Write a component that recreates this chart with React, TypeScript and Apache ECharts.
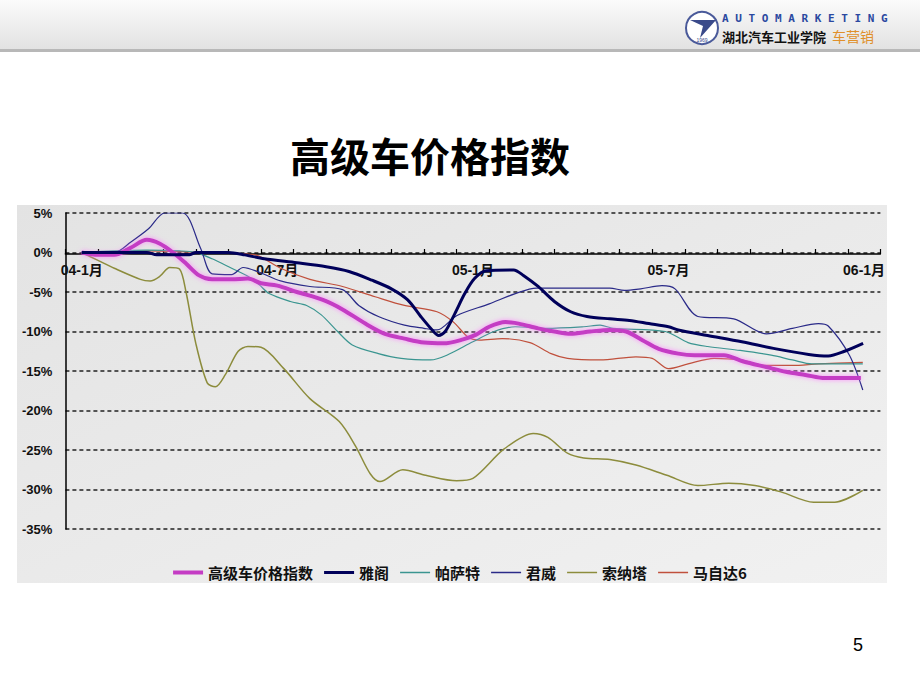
import React, { useEffect, useRef } from "react";
import * as echarts from "echarts";

const monthLabels = [
  "04-1月", "04-2月", "04-3月", "04-4月", "04-5月", "04-6月", "04-7月", "04-8月", "04-9月", "04-10月", "04-11月", "04-12月",
  "05-1月", "05-2月", "05-3月", "05-4月", "05-5月", "05-6月", "05-7月", "05-8月", "05-9月", "05-10月", "05-11月", "05-12月",
  "06-1月",
];

const seriesNames = ["高级车价格指数", "雅阁", "帕萨特", "君威", "索纳塔", "马自达6"];

// [month index (0 = 04-1月), value %]
const indexData = [
  [0, 0], [0.5, -0.3], [1, -0.3], [1.5, 0.6], [2, 1.6], [2.4, 1.1], [2.8, 0], [3.2, -1.4], [3.6, -2.9], [4, -3.4],
  [4.6, -3.4], [5.1, -3.3], [5.5, -3.9], [6, -4.2], [6.6, -5], [7.4, -6], [8, -7.2], [8.7, -9], [9.3, -10.3], [9.9, -10.9],
  [10.5, -11.4], [11.1, -11.5], [11.7, -11], [12.1, -10.4], [12.5, -9.4], [13, -8.8], [13.4, -9], [14, -9.6], [14.5, -10],
  [15, -10.3], [15.6, -10], [16.2, -9.8], [16.7, -10], [17.2, -11.1], [17.7, -12.2], [18.3, -12.8], [18.8, -13], [19.7, -13],
  [20.3, -13.8], [21, -14.5], [21.6, -15.1], [22.2, -15.5], [22.8, -15.9], [23.9, -15.9],
];
const accordData = [
  [0, 0], [1, 0], [2, 0], [2.3, -0.3], [3.3, -0.3], [3.5, 0], [4.5, 0], [5, -0.3], [5.6, -0.8], [6.6, -1.3], [7.5, -1.8],
  [8.2, -2.4], [8.9, -3.5], [9.5, -4.6], [10, -6], [10.4, -8.1], [10.75, -9.8], [10.95, -10.5], [11.15, -10], [11.45, -7.7],
  [11.75, -5.2], [12.05, -3.3], [12.4, -2.3], [13.25, -2.2], [13.55, -2.9], [14, -4.3], [14.5, -6.2], [15, -7.5], [15.5, -8.1],
  [16.2, -8.4], [16.8, -8.6], [17.4, -9], [18, -9.4], [18.3, -9.8], [19.2, -10.5], [20.25, -11.3], [21.3, -12.2], [22.3, -12.9],
  [22.9, -13.1], [23.4, -12.5], [23.97, -11.5],
];
const passatData = [
  [0, 0], [1, 0.2], [2, 0.3], [3, 0.2], [3.5, 0], [4, -0.8], [4.6, -2], [5.1, -3], [5.45, -4.1], [5.75, -5.2], [6.4, -6.2],
  [6.9, -6.7], [7.35, -7.9], [7.85, -10], [8.3, -11.7], [9.1, -12.8], [9.8, -13.4], [10.7, -13.6], [11.2, -13], [12, -11.3],
  [12.65, -10], [13.3, -9.4], [14.25, -9.6], [15.4, -9.4], [15.9, -9.2], [16.3, -9.6], [17.9, -10], [18.6, -11.4], [19.2, -11.9],
  [20.2, -12.4], [21.15, -13], [21.8, -13.6], [22.4, -14.1], [23.96, -14.1],
];
const regalData = [
  [0, 0], [1, 0], [1.5, 1.3], [2.05, 3], [2.55, 5], [3.1, 5], [3.65, 0.5], [4, -2.7], [4.6, -2.8], [4.95, -1.9], [5.45, -2.5],
  [6.1, -3.6], [7, -4.3], [8, -4.7], [8.5, -6.7], [9.1, -8.1], [9.9, -9.2], [10.5, -9.6], [10.9, -9.8], [11.5, -8], [12.5, -6.5],
  [13.3, -5.2], [13.95, -4.5], [16.2, -4.5], [16.65, -4.8], [17.15, -4.6], [17.8, -4.2], [18.2, -4.6], [18.9, -8.1], [20, -8.4],
  [21, -10.3], [21.8, -9.6], [22.6, -9], [22.9, -9.3], [23.55, -13], [23.96, -17.4],
];
const sonataData = [
  [0, 0], [0.5, -1], [1, -2], [1.8, -3.4], [2.1, -3.6], [2.4, -3], [2.7, -1.9], [3, -2.1], [3.2, -5], [3.5, -11.5], [3.85, -16.5],
  [4.1, -17], [4.4, -15.5], [4.8, -12.5], [5.1, -11.9], [5.5, -12], [6.2, -14.7], [7, -18.5], [7.9, -21.4], [8.4, -24.5],
  [8.85, -28], [9.15, -29], [9.85, -27.5], [10.55, -28.2], [11.5, -28.9], [12, -28.6], [12.95, -24.9], [13.85, -22.9],
  [14.3, -23.4], [14.9, -25.4], [15.4, -26], [16.2, -26.2], [17, -26.9], [17.95, -28.2], [18.9, -29.5], [19.85, -29.2],
  [20.65, -29.5], [21.45, -30.3], [22.45, -31.6], [23.1, -31.6], [23.96, -30.1],
];
const mazdaData = [
  [0, 0], [1, 0.1], [2, 0.2], [3, 0.1], [4, 0], [4.8, -0.1], [5.4, -0.4], [6.1, -2], [7, -3.4], [8, -4.3], [9, -5.6], [9.9, -6.7],
  [10.9, -7.5], [11.4, -8.8], [11.85, -10.7], [12.2, -11.1], [12.9, -10.9], [13.75, -11.4], [14.4, -12.8], [14.9, -13.4],
  [15.9, -13.6], [17, -13.2], [17.5, -13.4], [18, -14.7], [18.6, -14.1], [19.4, -13.4], [20.2, -13.6], [21, -14.3], [21.8, -14.3],
  [22.6, -14.1], [23.96, -13.9],
];

const CJK = "'Noto Sans CJK SC', sans-serif";
const LAT = "'Liberation Sans', 'Noto Sans CJK SC', sans-serif";

const thickIcon = "path://M0,0H30V4H0Z";
const midIcon = "path://M0,0H30V3H0Z";
const thinIcon = "path://M0,0H30V1.5H0Z";

function buildOption() {
  const mk = (name: string, data: number[][], color: string, width: number, extra: any = {}) => ({
    name,
    type: "line",
    xAxisIndex: 0,
    yAxisIndex: 0,
    data,
    symbol: "none",
    smooth: 0.3,
    lineStyle: { color, width, ...extra },
    itemStyle: { color },
  });
  return {
    animation: false,
    backgroundColor: "#ffffff",
    grid: [
      { left: 65.4, right: 39.6, top: 213, bottom: 161 },
      { left: 65.4, right: 39.6, top: 213, bottom: 436 },
    ],
    xAxis: [
      { type: "value", gridIndex: 0, min: -0.5, max: 24.5, show: false },
      {
        type: "category",
        gridIndex: 1,
        data: monthLabels,
        position: "bottom",
        boundaryGap: true,
        axisLine: { onZero: false, lineStyle: { color: "#000", width: 1.5 } },
        axisTick: { show: true, interval: 0, inside: true, length: 5, lineStyle: { color: "#000", width: 1.2 } },
        axisLabel: { interval: 5, fontWeight: "bold", fontSize: 14, color: "#111", margin: 9, fontFamily: LAT },
        splitLine: { show: false },
      },
    ],
    yAxis: [
      {
        type: "value",
        gridIndex: 0,
        min: -35,
        max: 5,
        interval: 5,
        axisLine: { show: true, onZero: false, lineStyle: { color: "#000", width: 1.5 } },
        axisTick: { show: false },
        axisLabel: { formatter: "{value}%", fontWeight: "bold", fontSize: 13, color: "#111", margin: 13, fontFamily: LAT },
        splitLine: { show: true, lineStyle: { color: "#222", width: 1.5, type: [4, 3] } },
      },
      { type: "value", gridIndex: 1, min: 0, max: 1, show: false },
    ],
    legend: {
      data: [
        { name: seriesNames[0], icon: thickIcon },
        { name: seriesNames[1], icon: midIcon },
        { name: seriesNames[2], icon: thinIcon },
        { name: seriesNames[3], icon: thinIcon },
        { name: seriesNames[4], icon: thinIcon },
        { name: seriesNames[5], icon: thinIcon },
      ],
      left: "center",
      top: 560,
      itemWidth: 30,
      itemHeight: 14,
      itemGap: 11,
      textStyle: { fontFamily: CJK, fontWeight: "bold", fontSize: 15, color: "#111" },
    },
    series: [
      mk(seriesNames[4], sonataData, "#8c8c3c", 1.5),
      mk(seriesNames[5], mazdaData, "#c0503c", 1.2),
      mk(seriesNames[2], passatData, "#3a9590", 1.2),
      mk(seriesNames[3], regalData, "#2a2a88", 1.2),
      mk(seriesNames[0], indexData, "#c43cc4", 4, { shadowColor: "rgba(255,120,255,0.8)", shadowBlur: 5 }),
      mk(seriesNames[1], accordData, "#00005a", 3),
    ],
    graphic: [
      {
        type: "rect",
        z: -10,
        shape: { x: 0, y: 0, width: 920, height: 50 },
        style: {
          fill: new echarts.graphic.LinearGradient(0, 0, 0, 1, [
            { offset: 0, color: "#fbfbfb" },
            { offset: 1, color: "#e2e2e2" },
          ]),
        },
      },
      { type: "rect", z: -9, shape: { x: 0, y: 49, width: 920, height: 3 }, style: { fill: "#b8b8b8" } },
      {
        type: "rect",
        z: -10,
        shape: { x: 17, y: 205, width: 870, height: 378 },
        style: {
          fill: new echarts.graphic.LinearGradient(0, 0, 1, 1, [
            { offset: 0, color: "#e3e3e3" },
            { offset: 1, color: "#f1f1f1" },
          ]),
        },
      },
      { type: "circle", z: 5, shape: { cx: 702, cy: 28, r: 16 }, style: { fill: "#ffffff", stroke: "#4a5a9a", lineWidth: 2 } },
      {
        type: "polygon",
        z: 6,
        shape: { points: [[690, 20], [716, 20], [700, 38], [703, 26]] },
        style: { fill: "#3a4a8a" },
      },
      { type: "text", z: 6, style: { text: "1969", x: 702, y: 40, fontSize: 5, fill: "#3a4a8a", align: "center", verticalAlign: "middle" } },
      {
        type: "text",
        z: 6,
        style: {
          text: "A U T O M A R K E T I N G",
          x: 722,
          y: 18,
          fontSize: 11,
          fontWeight: "bold",
          fontFamily: "'DejaVu Sans Mono', monospace",
          fill: "#2a48a0",
          verticalAlign: "middle",
        },
      },
      {
        type: "text",
        z: 6,
        style: { text: "湖北汽车工业学院", x: 722, y: 36, fontSize: 13, fontWeight: "bold", fontFamily: CJK, fill: "#111", verticalAlign: "middle" },
      },
      {
        type: "text",
        z: 6,
        style: { text: "车营销", x: 832, y: 36, fontSize: 14, fontFamily: CJK, fill: "#e0902a", verticalAlign: "middle" },
      },
      {
        type: "text",
        z: 6,
        style: { text: "高级车价格指数", x: 430, y: 155, fontSize: 40, fontWeight: "bold", fontFamily: CJK, fill: "#000", align: "center", verticalAlign: "middle" },
      },
      {
        type: "text",
        z: 6,
        style: { text: "5", x: 858, y: 645, fontSize: 18, fontFamily: LAT, fill: "#000", align: "center", verticalAlign: "middle" },
      },
    ],
  };
}

export default function App() {
  const ref = useRef<HTMLDivElement>(null);
  useEffect(() => {
    const chart = echarts.init(ref.current as HTMLDivElement, null, { renderer: "svg" });
    chart.setOption(buildOption() as any);
    return () => chart.dispose();
  }, []);
  return <div ref={ref} style={{ position: "absolute", left: 0, top: 0, width: 920, height: 690 }} />;
}
